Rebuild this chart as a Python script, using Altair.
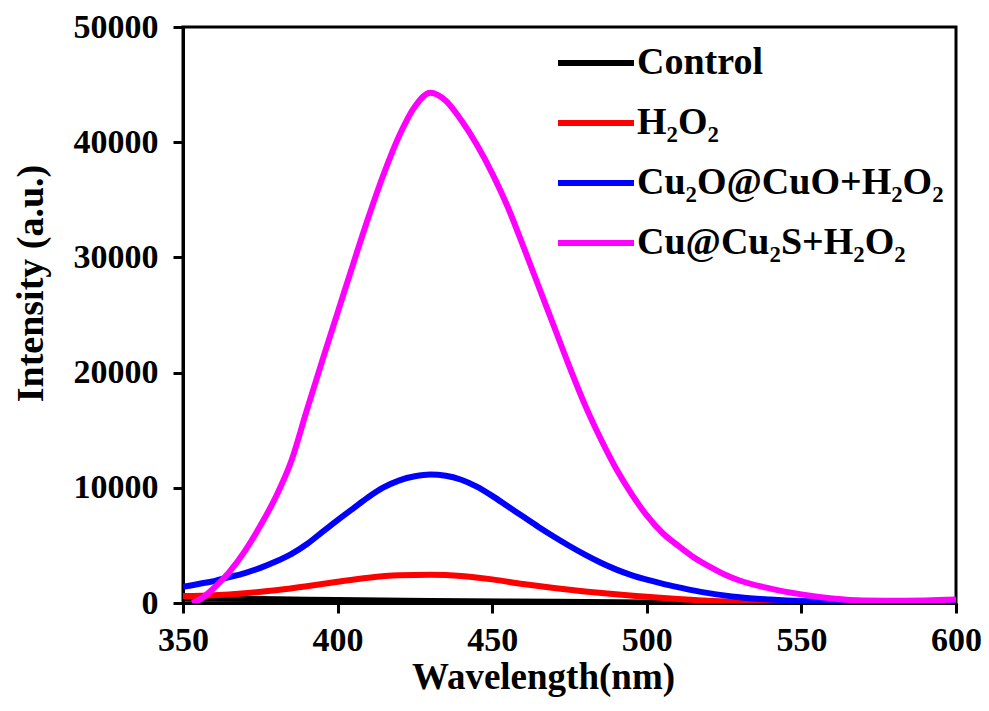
import altair as alt
import pandas as pd

series_names = ["Control", "H₂O₂", "Cu₂O@CuO+H₂O₂", "Cu@Cu₂S+H₂O₂"]
series_colors = ["#000000", "#ff0000", "#0000ff", "#ff00ff"]

control_wl = [350, 380, 400, 430, 470, 500, 550, 600]
control_val = [400, 330, 250, 180, 100, 50, 0, 0]

h2o2_wl = [350, 360, 370, 380, 390, 400, 410, 420, 430, 440, 450, 460, 470, 480, 490, 500, 510, 520, 530, 545, 570, 600]
h2o2_val = [600, 680, 850, 1100, 1450, 1850, 2200, 2400, 2450, 2350, 2050, 1650, 1300, 1000, 750, 550, 350, 200, 120, 50, 30, 30]

cuo_wl = [350, 355, 360, 365, 370, 375, 380, 385, 390, 395, 400, 405, 410, 415, 420, 425, 430, 435, 440, 445, 450, 455, 460, 465, 470, 475, 480, 485, 490, 495, 500, 505, 510, 515, 520, 525, 530, 540, 550, 560, 575, 590, 600]
cuo_val = [1400, 1650, 1900, 2250, 2600, 3050, 3600, 4250, 5100, 6150, 7200, 8200, 9200, 10050, 10650, 11000, 11150, 11050, 10700, 10100, 9300, 8400, 7500, 6600, 5750, 4950, 4200, 3520, 2920, 2420, 2020, 1680, 1380, 1100, 860, 660, 500, 300, 170, 120, 100, 150, 200]

cus_wl = [353, 356, 360, 365, 370, 375, 380, 385, 390, 395, 400, 405, 410, 415, 420, 425, 430, 435, 440, 445, 450, 455, 460, 465, 470, 475, 480, 485, 490, 495, 500, 505, 510, 515, 520, 525, 530, 540, 550, 560, 570, 580, 590, 600]
cus_val = [0, 400, 1300, 2700, 4500, 6700, 9200, 12300, 16700, 21000, 25200, 29400, 33500, 37300, 40600, 43100, 44300, 43600, 41900, 39800, 37300, 34400, 31000, 27500, 24000, 20500, 17200, 14300, 11700, 9500, 7600, 6100, 5000, 4000, 3200, 2500, 1950, 1250, 750, 400, 220, 200, 220, 300]

x_ticks = [350, 400, 450, 500, 550, 600]
y_ticks = [0, 10000, 20000, 30000, 40000, 50000]

rows = []
for name, wl, vals in zip(series_names,
                          [control_wl, h2o2_wl, cuo_wl, cus_wl],
                          [control_val, h2o2_val, cuo_val, cus_val]):
    for i, (w, v) in enumerate(zip(wl, vals)):
        rows.append({"series": name, "wl": w, "val": v, "ord": i})
df = pd.DataFrame(rows)

FONT = "Liberation Serif"

chart = alt.Chart(df).mark_line(strokeWidth=6, interpolate="monotone", clip=True).encode(
    x=alt.X("wl:Q",
            scale=alt.Scale(domain=[350, 600], nice=False, zero=False),
            axis=alt.Axis(values=x_ticks, title="Wavelength(nm)", format="d",
                          labelPadding=10, labelFlush=False, titleFontSize=37,
                          titleX=360, titleY=85,
                          titleBaseline="alphabetic", titleAlign="center")),
    y=alt.Y("val:Q",
            scale=alt.Scale(domain=[0, 50000], nice=False),
            axis=alt.Axis(values=y_ticks, title="Intensity (a.u.)", format="d",
                          labelPadding=15, labelFlush=False, titleFontSize=38,
                          titleX=-141, titleY=256,
                          titleBaseline="alphabetic", titleAlign="center")),
    color=alt.Color("series:N",
                    scale=alt.Scale(domain=series_names, range=series_colors),
                    legend=alt.Legend(orient="none", legendX=372, legendY=-5, title=None,
                                      symbolType="stroke", symbolSize=5776,
                                      symbolStrokeWidth=6, labelFont=FONT,
                                      labelFontSize=38, labelFontWeight="bold",
                                      labelColor="black", rowPadding=-25,
                                      labelOffset=0, padding=0, symbolOpacity=1,
                                      labelLimit=0)),
    order="ord:Q",
).properties(
    width=773, height=576,
    autosize=alt.AutoSizeParams(type="none"),
    padding={"left": 175, "top": 19, "right": 25, "bottom": 102},
).configure_view(
    stroke="black", strokeWidth=3
).configure_axis(
    grid=False, domainColor="black", domainWidth=3, tickColor="black",
    tickWidth=3, tickSize=10, labelFont=FONT, labelFontSize=34,
    labelFontWeight="bold", labelColor="black", titleFont=FONT,
    titleFontWeight="bold", titleColor="black"
)

chart.save("out.html", embed_options={"renderer": "svg", "actions": False})
